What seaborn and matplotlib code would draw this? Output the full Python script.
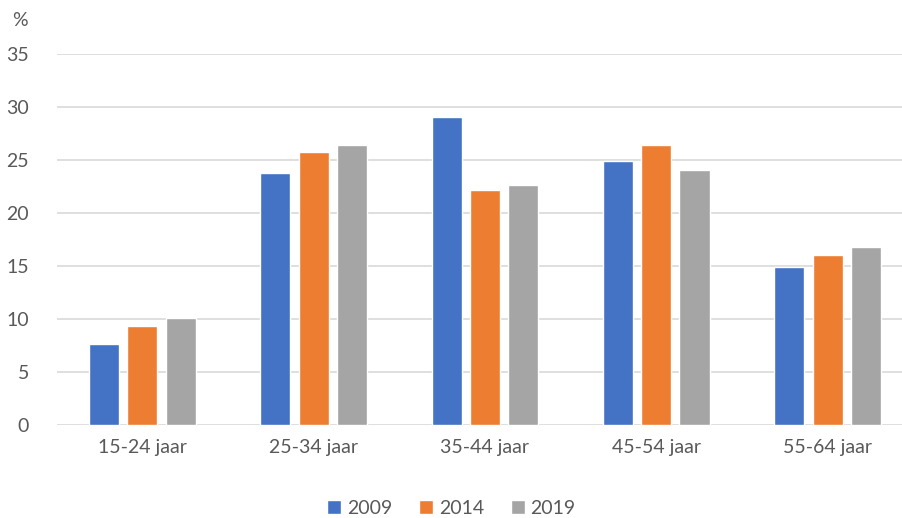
import matplotlib
matplotlib.use("Agg")
import matplotlib.pyplot as plt
import seaborn as sns
import pandas as pd

# Data
age_groups = ["15-24 jaar", "25-34 jaar", "35-44 jaar", "45-54 jaar", "55-64 jaar"]
years = ["2009", "2014", "2019"]
values_2009 = [7.6, 23.8, 29.1, 24.9, 14.9]
values_2014 = [9.3, 25.8, 22.2, 26.4, 16.0]
values_2019 = [10.1, 26.4, 22.6, 24.1, 16.8]
yticks = [0, 5, 10, 15, 20, 25, 30, 35]

colors = ["#4472C4", "#ED7D31", "#A5A5A5"]
text_color = "#595959"

# Long-format table for seaborn
rows = []
for year, vals in zip(years, [values_2009, values_2014, values_2019]):
    for group, v in zip(age_groups, vals):
        rows.append({"leeftijd": group, "jaar": year, "pct": v})
df = pd.DataFrame(rows)

sns.set_style("white")
plt.rcParams["font.family"] = ["Lato", "DejaVu Sans"]

fig = plt.figure(figsize=(9.03, 5.18), dpi=100)
# plot area runs a little past the right edge of the picture, as in the original
ax = fig.add_axes([56.7 / 903, 1 - 425 / 518, 856.5 / 903, (425 - 54) / 518])

sns.barplot(data=df, x="leeftijd", y="pct", hue="jaar", order=age_groups,
            hue_order=years, palette=colors, saturation=1, width=0.67, gap=0.215,
            errorbar=None, ax=ax, legend=True)

ax.set_ylim(0, 35)
ax.set_yticks(yticks)
ax.set_xlim(-0.5, len(age_groups) - 0.5)
ax.yaxis.grid(True, color="#d9d9d9", linewidth=1.2)
ax.set_axisbelow(True)
for side in ["top", "right", "left", "bottom"]:
    ax.spines[side].set_visible(False)
ax.set_xlabel("")
ax.set_ylabel("")
ax.tick_params(axis="both", length=0, labelsize=14, colors=text_color, pad=10)
ax.tick_params(axis="y", pad=20)

fig.text(12 / 903, 1 - 20 / 518, "%", fontsize=14, color=text_color, va="center")

handles, labels = ax.get_legend_handles_labels()
ax.get_legend().remove()
fig.legend(handles, labels, loc="center", bbox_to_anchor=(0.5, 1 - 508 / 518),
           ncol=3, frameon=False, fontsize=14, handlelength=0.7, handleheight=0.7,
           handletextpad=0.3, columnspacing=1.4, labelcolor=text_color)

fig.savefig("out.png", dpi=100, facecolor="white")
